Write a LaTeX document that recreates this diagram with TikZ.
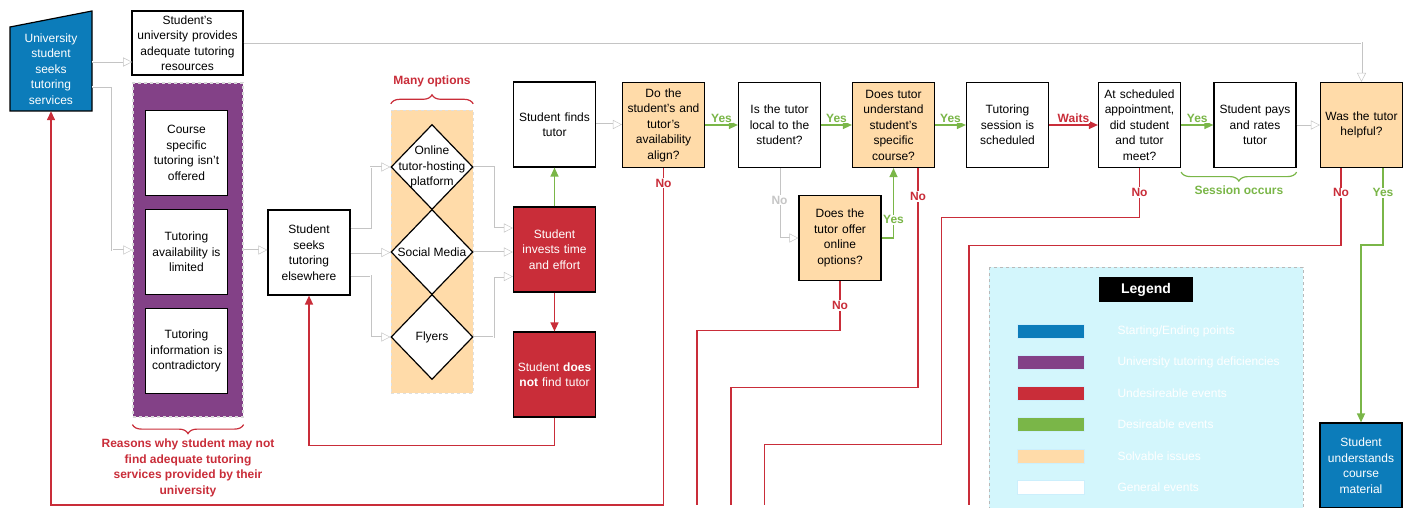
\documentclass[tikz,border=0pt]{standalone}
\usepackage{fontspec}
\setmainfont{Liberation Sans}
\usetikzlibrary{shapes.geometric,arrows.meta,decorations.pathreplacing}

\definecolor{lucidblue}{HTML}{0C7CBA}
\definecolor{lucidpurple}{HTML}{834187}
\definecolor{lucidred}{HTML}{C92D39}
\definecolor{lucidgreen}{HTML}{7AB648}
\definecolor{lucidorange}{HTML}{FFDBA9}
\definecolor{lucidcyan}{HTML}{D3F6FC}
\definecolor{lucidgray}{HTML}{C4C4C4}

\tikzset{
  box/.style={draw,fill=white,line width=1.2pt,minimum width=82pt,minimum height=85pt,text width=80pt,inner sep=1pt,align=center,font=\fontsize{12}{15.5}\selectfont},
  solvable/.style={box,fill=lucidorange},
  undesired/.style={box,fill=lucidred,text=white},
  terminal/.style={box,fill=lucidblue,text=white},
  option/.style={diamond,draw,line width=1.2pt,fill=white,minimum width=82pt,minimum height=85pt,inner sep=0pt},
  ghost/.style={draw=lucidgray,double=white,double distance=1pt,line width=0.5pt,-{Triangle[open,length=9pt,width=9pt,fill=white]}},
  good/.style={draw=lucidgreen,line width=1.4pt,-{Triangle[length=9pt,width=8pt]}},
  bad/.style={draw=lucidred,line width=1.4pt,-{Triangle[length=9pt,width=8pt]}},
  badline/.style={draw=lucidred,line width=1.2pt},
  yes/.style={fill=white,inner sep=1pt,text=lucidgreen,font=\fontsize{12}{14}\selectfont\bfseries},
  no/.style={yes,text=lucidred},
  sidebrace/.style={decorate,decoration={brace,amplitude=9pt},line width=1.2pt},
}

\begin{document}
\begin{tikzpicture}[x=1pt,y=-1pt]
\useasboundingbox (0,0) rectangle (1408,508);

\filldraw[fill=lucidcyan,draw=gray!55,dashed] (989,267) rectangle (1303,512);
\node[fill=black,text=white,font=\fontsize{14}{16}\selectfont\bfseries,minimum width=94pt,minimum height=25pt] at (1146,289.5) (legend) {Legend};
\foreach \c/\t [count=\i] in {lucidblue/{Starting/Ending points},lucidpurple/{University tutoring deficiencies},lucidred/{Undesireable events},lucidgreen/{Desireable events},lucidorange/{Solvable issues},white/{General events}} {
  \node[fill=\c,draw=cyan!20,minimum width=67pt,minimum height=14pt,inner sep=0pt] at (1050.5,{331+31.2*(\i-1)}) (sw\i) {};
  \node[anchor=west,text=white,font=\fontsize{12}{14}\selectfont] at (1114,{331+31.2*(\i-1)}) (lg\i) {\t};
}

\filldraw[fill=lucidblue,line width=1.2pt] (10,27) -- (92,11) -- (92,111) -- (10,111) -- cycle;
\node[text=white,align=center,font=\fontsize{12}{15.5}\selectfont,minimum width=82pt,minimum height=84pt] at (51,69) (uni) {University\\student\\seeks\\tutoring\\services};
\node[box,minimum width=111pt,text width=107pt,minimum height=64pt] at (187.5,43) (provides) {Student's\\university provides\\adequate tutoring\\resources};

\node[fill=lucidpurple,draw=gray!30,dashed,line width=1.2pt,minimum width=110pt,minimum height=334pt] at (188,250) (deficit) {};
\node[box] at (186.5,153) (course) {Course\\specific\\tutoring isn't\\offered};
\node[box] at (186.5,252) (avail) {Tutoring\\availability is\\limited};
\node[box] at (186.5,351) (info) {Tutoring\\information is\\contradictory};

\node[box] at (309,252.5) (seeks) {Student\\seeks\\tutoring\\elsewhere};
\node[fill=lucidorange,draw=gray!25,dashed,minimum width=82pt,minimum height=283pt] at (432,251.5) (opts) {};
\node[option,label={[align=center,font=\fontsize{12}{15.5}\selectfont]center:Online\\tutor-hosting\\platform}] at (432,167) (dweb) {};
\node[option,label={[font=\fontsize{12}{15.5}\selectfont]center:Social Media}] at (432,252) (dsocial) {};
\node[option,label={[font=\fontsize{12}{15.5}\selectfont]center:Flyers}] at (432,337) (dflyers) {};

\node[box] at (554.5,124.5) (found) {Student finds\\tutor};
\node[undesired] at (554.5,249.5) (invests) {Student\\invests time\\and effort};
\node[undesired] at (554.5,374.5) (nofind) {Student \textbf{does}\\\textbf{not} find tutor};

\node[solvable] at (663.5,125) (align) {Do the\\student's and\\tutor's\\availability\\align?};
\node[box] at (779.5,125) (local) {Is the tutor\\local to the\\student?};
\node[solvable] at (840,238) (online) {Does the\\tutor offer\\online\\options?};
\node[solvable] at (893.5,125) (grasp) {Does tutor\\understand\\student's\\specific\\course?};
\node[box] at (1007.5,125) (sched) {Tutoring\\session is\\scheduled};
\node[box] at (1139.5,125) (met) {At scheduled\\appointment,\\did student\\and tutor\\meet?};
\node[box] at (1255,125) (pays) {Student pays\\and rates\\tutor};
\node[solvable] at (1361.5,125) (helpful) {Was the tutor\\helpful?};
\node[terminal] at (1361,465.5) (learned) {Student\\understands\\course\\material};

\draw[ghost] ([yshift=7pt]uni.east) -- ++(40,0);
\draw[ghost] (provides.east) -| (helpful.north);
\draw[ghost] ([yshift=-18pt]uni.east) -- ++(20,0) |- (deficit.west);
\draw[ghost] (deficit.east) -- (deficit.east -| seeks.west);
\draw[ghost] ([yshift=25pt]seeks.east) -- ++(20,0) |- (dweb.west);
\draw[ghost] (seeks.east) -- (seeks.east -| dsocial.west);
\draw[ghost] ([yshift=-23pt]seeks.east) -- ++(20,0) |- (dflyers.west);
\draw[ghost] (dweb.east) -- ++(20,0) |- ([yshift=21.5pt]invests.west);
\draw[ghost] (dsocial.east) -- (dsocial.east -| invests.west);
\draw[ghost] (dflyers.east) -- ++(20,0) |- ([yshift=-27pt]invests.west);
\draw[ghost] (found.east) -- (found.east -| align.west);
\draw[ghost] (local.south) |- node[pos=0.23,fill=white,inner sep=1pt,text=gray!45,font=\fontsize{12}{14}\selectfont\bfseries]{No} (online.west);
\draw[ghost] (pays.east) -- (helpful.west);

\draw[good] (invests.north) -- (found.south);
\draw[bad] (invests.south) -- (nofind.north);
\draw[good] (align.east) -- node[yes,above=1pt]{Yes} (local.west);
\draw[good] (local.east) -- node[yes,above=1pt]{Yes} (grasp.west);
\draw[good] (grasp.east) -- node[yes,above=1pt]{Yes} (sched.west);
\draw[bad] (sched.east) -- node[no,above=1pt]{Waits} (met.west);
\draw[good] (met.east) -- node[yes,above=1pt]{Yes} (pays.west);
\draw[good] (online.east) -| node[yes,pos=0.63]{Yes} (grasp.south);
\draw[good] ([xshift=21.5pt]helpful.south) -- node[yes,pos=0.32]{Yes} ++(0,77) -| (learned.north);

\draw[bad] (nofind.south) -- ++(0,28) -| (seeks.south);
\draw[bad] (align.south) -- node[no,pos=0.045]{No} ++(0,337) -| (uni.south);
\draw[badline] (online.south) -- node[no]{No} ++(0,49) -| ++(-143,175);
\draw[badline] ([xshift=24.5pt]grasp.south) -- node[no,pos=0.13]{No} ++(0,219) -| ++(-187,118);
\draw[badline] (met.south) -- node[no]{No} ++(0,49) -| ++(-198,227) -| ++(-177,61);
\draw[badline] ([xshift=-20.5pt]helpful.south) -- node[no,pos=0.32]{No} ++(0,77) -| ++(-372,260);

\draw[sidebrace,draw=lucidred] ([yshift=6pt]opts.north west) -- node[no,fill=none,above=15pt]{Many options} ([yshift=6pt]opts.north east);
\draw[sidebrace,draw=lucidred] ([yshift=-7pt]deficit.south east) -- node[no,fill=none,below=13pt,align=center,font=\fontsize{12}{15.5}\selectfont\bfseries]{Reasons why student may not\\find adequate  tutoring\\services provided by their\\university} ([yshift=-7pt]deficit.south west);
\draw[sidebrace,draw=lucidgreen] ([yshift=-4pt]pays.south east) -- node[yes,fill=none,below=12pt]{Session occurs} ([yshift=-4pt]met.south east);
\end{tikzpicture}
\end{document}
